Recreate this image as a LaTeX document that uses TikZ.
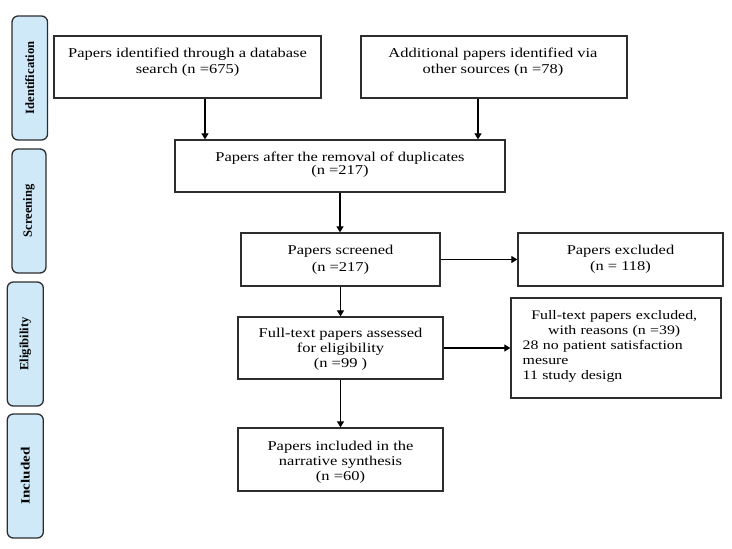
\documentclass[tikz,border=0pt]{standalone}
\usepackage{fontspec}
\usepackage{graphicx}
\setmainfont{Liberation Serif}[FakeStretch=1.22]
\newfontfamily\lblfont{Liberation Serif}
\usetikzlibrary{arrows.meta,calc}
\definecolor{lblblue}{RGB}{207,233,249}
\definecolor{edgegray}{RGB}{45,45,45}
\begin{document}
\begin{tikzpicture}[x=1pt,y=-1pt,
  box/.style={draw=edgegray, line width=1.3pt, inner sep=0pt},
  txt/.style={inner sep=0pt, align=center, anchor=base, font=\fontsize{13.5}{15.5}\selectfont},
  lab/.style={draw=edgegray, fill=lblblue, line width=1.3pt, rounded corners=6pt, inner sep=0pt, rotate=90, minimum width=124pt, font=\lblfont\bfseries\fontsize{12.6}{14}\selectfont},
  arr/.style={-{Triangle[length=6pt,width=7pt]}, line width=1.2pt, black}]
\useasboundingbox (0,0) rectangle (732,549);

% stage labels
\node[lab, minimum height=35.5pt] (L1) at (29.8,78) {Identification};
\node[lab, minimum height=34pt] (L2) at (29,211) {Screening};
\node[lab, minimum height=36pt] (L3) at (25.3,344) {Eligibility};
\node[lab, minimum height=36pt] (L4) at (25.3,476) {\scalebox{1.2}[1]{Included}};

% boxes
\node[box, minimum width=267pt, minimum height=62pt] (A) at (187.5,67) {};
\node[box, minimum width=266pt, minimum height=62pt] (B) at (494,67) {};
\node[box, minimum width=330pt, minimum height=52pt] (C) at (340,166) {};
\node[box, minimum width=199pt, minimum height=53pt] (D) at (340.5,259.5) {};
\node[box, minimum width=205pt, minimum height=53pt] (E) at (620.5,259.5) {};
\node[box, minimum width=205pt, minimum height=62pt] (F) at (340.5,348) {};
\node[box, minimum width=210pt, minimum height=100pt] (G) at (616,348) {};
\node[box, minimum width=205pt, minimum height=63pt] (H) at (340.5,459.5) {};

% texts (base anchor = baseline of the last line)
\node[txt] (At) at (187.5,73.3) {Papers identified through a database\\search (n =675)};
\node[txt] (Bt) at (493,73.3) {Additional papers identified via\\other sources (n =78)};
\node[txt, font=\fontsize{13.5}{13.5}\selectfont] (Ct) at (340,174.5) {Papers after the removal of duplicates\\(n =217)};
\node[txt, font=\fontsize{13.5}{17}\selectfont] (Dt) at (340.5,271.3) {Papers screened\\(n =217)};
\node[txt] (Et) at (620.5,270.3) {Papers excluded\\(n = 118)};
\node[txt, font=\fontsize{13.5}{15}\selectfont] (Ft) at (340.5,367.3) {Full-text papers assessed\\for eligibility\\(n =99 )};
\node[txt, text width=183pt, align=left, font=\fontsize{13}{15}\selectfont] (Gt) at (614.2,319.3)
  {{\centering Full-text papers excluded,\\with reasons (n =39)\par}28 no patient satisfaction\\mesure\\11 study design};
\node[txt, font=\fontsize{13.5}{15}\selectfont] (Ht) at (340.5,480) {Papers included in the\\narrative synthesis\\(n =60)};

% connectors
\coordinate (ax) at (205,0);
\coordinate (bx) at (478,0);
\draw[arr] (A.south -| ax) -- (C.north -| ax);
\draw[arr] (B.south -| bx) -- (C.north -| bx);
\draw[arr] (C.south) -- (C.south |- D.north);
\draw[arr] (D.east) -- (E.west);
\draw[arr] (D.south) -- (F.north);
\draw[arr] (F.east) -- (F.east -| G.west);
\draw[arr] (F.south) -- (H.north);
\end{tikzpicture}
\end{document}
